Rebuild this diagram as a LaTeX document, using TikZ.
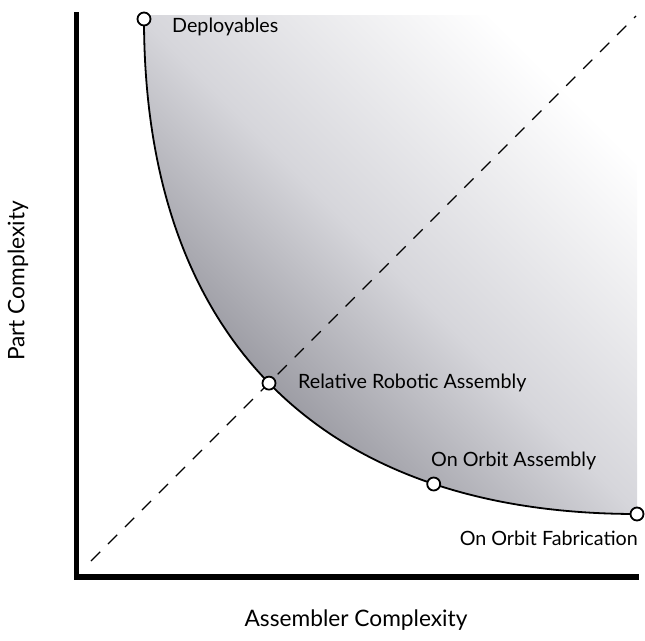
\documentclass[tikz,border=0pt]{standalone}
\usepackage{fontspec}
\setmainfont{Lato}
\definecolor{shadedark}{RGB}{148,148,156}
\definecolor{shademid}{RGB}{214,214,219}
% diagonal fade: dark grey near the frontier, white towards the far corner
\pgfdeclarehorizontalshading{frontiershade}{100bp}{color(0bp)=(shadedark); color(31bp)=(shadedark); color(50bp)=(shademid); color(74bp)=(white); color(100bp)=(white)}
\begin{document}
\begin{tikzpicture}[x=1pt,y=-1pt,
  axisline/.style={line width=5.5pt, line join=miter},
  guide/.style={line width=1.1pt, dash pattern=on 13pt off 11pt},
  frontier/.style={line width=1.8pt},
  marker/.style={circle, draw, fill=white, line width=1.8pt, minimum size=13pt, inner sep=0pt},
  lbl/.style={font=\fontsize{19.7}{22}\selectfont, inner sep=0pt},
  axlbl/.style={font=\fontsize{22.7}{26}\selectfont, inner sep=0pt}]
\useasboundingbox (0,0) rectangle (645,640);

% key points of the trade-off frontier
\coordinate (dep) at (144,19);
\coordinate (fab) at (637,514);
\coordinate (cornerTL) at (144,15);
\coordinate (cornerTR) at (637,15);

% gradient-filled region above the frontier
\begin{scope}
  \clip (cornerTL) -- (cornerTR) -- (fab) .. controls (313,514) and (144,330) .. (dep) -- cycle;
  \shade[shading=frontiershade, shading angle=45] (130,5) rectangle (650,525);
\end{scope}

% equal-complexity diagonal
\coordinate (dlow) at (91,561);
\coordinate (dhigh) at (636,16);
\draw[guide] (dlow) -- (dhigh);

% frontier curve with its markers
\draw[frontier] (dep) .. controls (144,330) and (313,514) .. (fab)
  node[marker, pos=0.5] (rra) {}
  node[marker, pos=0.764] (ooa) {};
\node[marker] (depm) at (dep) {};
\node[marker] (fabm) at (fab) {};

% axes
\coordinate (ytop) at (76.5,12);
\coordinate (origin) at (76.5,577);
\coordinate (xend) at (639,577);
\draw[axisline] (ytop) -- (origin) -- (xend);

% labels
\node[lbl, anchor=west] (tdep) at (172,27) {Deployables};
\node[lbl, anchor=west] (trra) at (298,383) {Relative Robotic Assembly};
\node[lbl, anchor=west] (tooa) at (431,461) {On Orbit Assembly};
\node[lbl, anchor=east] (tfab) at (638,538) {On Orbit Fabrication};
\node[axlbl] (xlab) at (356,620) {Assembler Complexity};
\node[axlbl, rotate=90] (ylab) at (18,281) {Part Complexity};
\end{tikzpicture}
\end{document}
